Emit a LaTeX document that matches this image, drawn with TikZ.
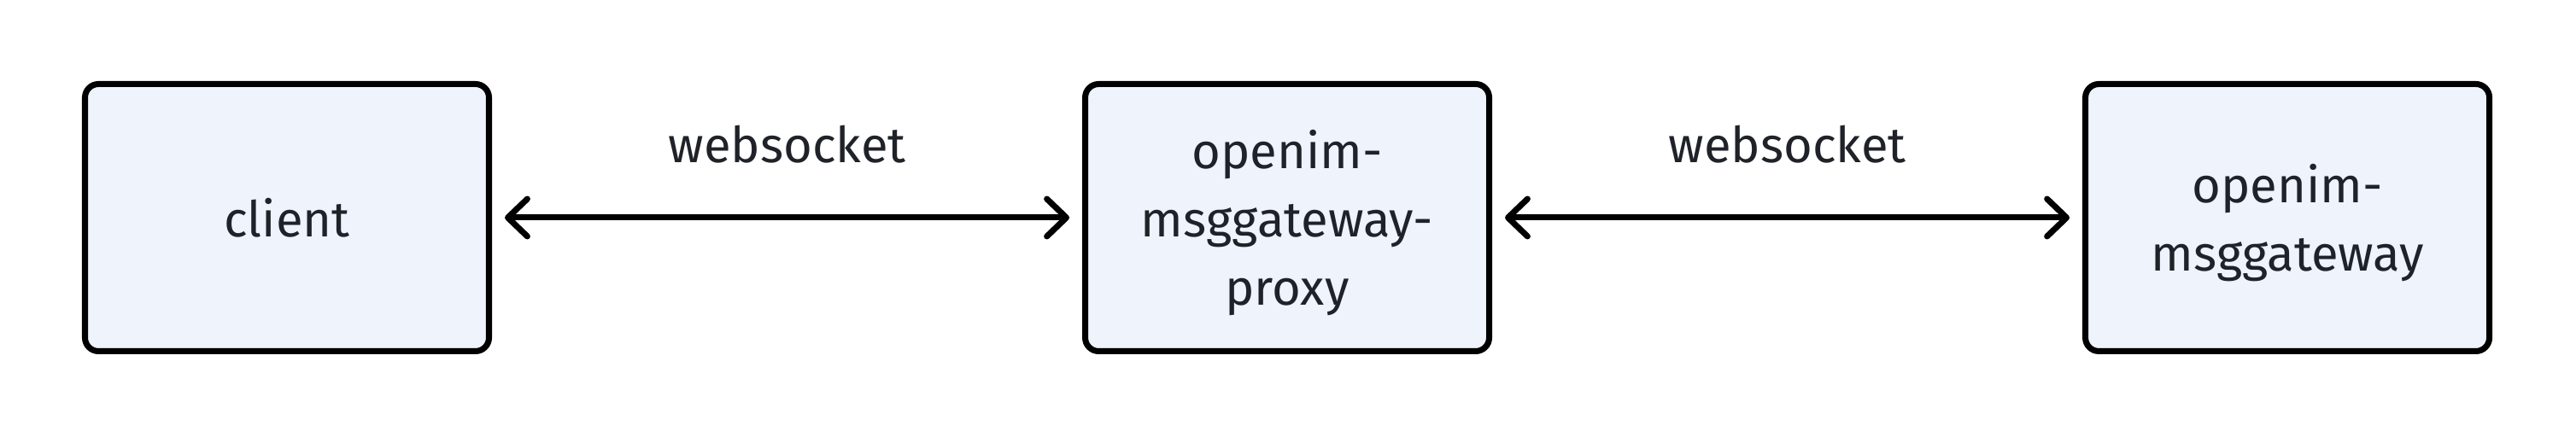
\documentclass[tikz,border=0pt]{standalone}
\usepackage{fontspec}
\setmainfont{Fira Sans}
\usetikzlibrary{positioning, arrows.meta}
\usepackage{xcolor}
\definecolor{boxfill}{HTML}{EEF3FC}
\definecolor{inktext}{HTML}{1F2329}

\begin{document}
\begin{tikzpicture}[
    every node/.style={font=\fontsize{16.5}{22.8}\selectfont, text=inktext},
    svcbox/.style={
        rounded corners=4.5pt,
        draw=black,
        line width=2pt,
        fill=boxfill,
        align=center,
        minimum width=4.73cm,
        minimum height=3.13cm,
        inner sep=2pt,
        text depth=-1.5pt,
    },
    link/.style={
        {Straight Barb[length=6.5pt,width=12.5pt,round]}-{Straight Barb[length=6.5pt,width=12.5pt,round]},
        line width=2pt, line cap=round,
        shorten <=0.15cm, shorten >=0.15cm,
    },
]

\useasboundingbox (0,0) rectangle (30.16,5.12);

\node[svcbox, text depth=0pt] (client) at (3.36,2.57) {client};
\node[svcbox, right=6.91cm of client] (proxy) {openim-\\msggateway-\\proxy};
\node[svcbox, right=6.91cm of proxy] (gateway) {openim-\\msggateway};

% websocket links
\draw[link] (client.east) -- node[above=0.49cm] (ws1) {websocket} (proxy.west);
\draw[link] (proxy.east) -- node[above=0.49cm] (ws2) {websocket} (gateway.west);

\end{tikzpicture}
\end{document}
